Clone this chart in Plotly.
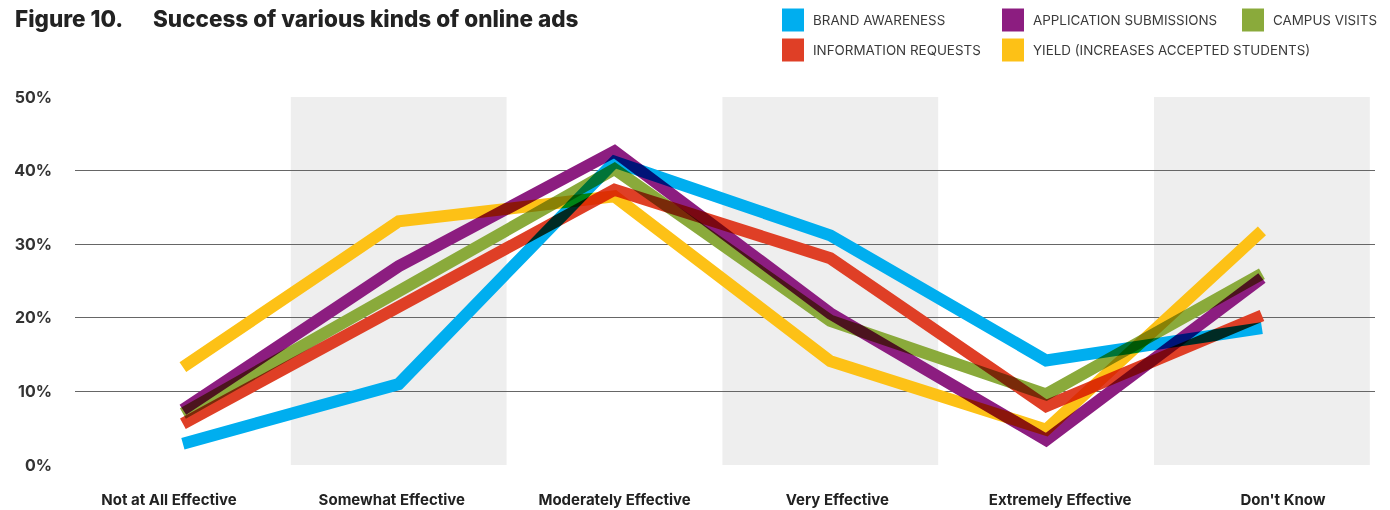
import plotly.graph_objects as go

# Survey categories (x axis) and share of respondents per ad goal (%)
categories = ["Not at All Effective", "Somewhat Effective", "Moderately Effective",
              "Very Effective", "Extremely Effective", "Don't Know"]

brand_awareness = [2.9, 11.0, 41.2, 31.2, 14.2, 18.6]
application_submissions = [7.5, 27.0, 42.6, 20.6, 3.4, 25.4]
campus_visits = [7.0, 23.6, 40.2, 19.6, 9.6, 26.0]
information_requests = [5.6, 21.3, 37.4, 28.1, 8.0, 20.3]
yield_accepted = [13.3, 33.1, 36.5, 14.1, 4.8, 31.8]

series_names = ["BRAND AWARENESS", "APPLICATION SUBMISSIONS", "CAMPUS VISITS",
                "INFORMATION REQUESTS", "YIELD (INCREASES ACCEPTED STUDENTS)"]
series_values = [brand_awareness, application_submissions, campus_visits,
                 information_requests, yield_accepted]
series_colors = ["#00AEEF", "#8C1D80", "#8AAA3B", "#DF3F26", "#FDC116"]

y_ticks = [0, 10, 20, 30, 40, 50]

W, H = 1390, 510
ML, MR, MT, MB = 75, 15, 97, 45
PW, PH = W - ML - MR, H - MT - MB

X_RANGE = [-0.5, 5.524]
LABEL_RANGE = [-0.422, 5.413]

FONT = "Inter"


def px_to_paper(px, py):
    return (px - ML) / PW, (H - MB - py) / PH


fig = go.Figure()

xs = list(range(len(categories)))
for name, vals, col in zip(series_names, series_values, series_colors):
    fig.add_trace(go.Scatter(
        x=xs, y=vals, mode="lines", name=name,
        line=dict(color=col, width=12),
        hoverinfo="skip", showlegend=False,
    ))

# Alternating shaded columns
shapes = []
for x0 in (0.5, 2.5, 4.5):
    shapes.append(dict(type="rect", xref="x", yref="paper",
                       x0=x0, x1=min(x0 + 1, X_RANGE[1]), y0=0, y1=1,
                       fillcolor="#EEEEEE", line=dict(width=0), layer="below"))

# Legend swatches and labels (two rows, three columns)
legend_slots = [(782, 20), (1002, 20), (1242, 20), (782, 50), (1002, 50)]
annotations = []
for (sx, sy), name, col in zip(legend_slots, series_names, series_colors):
    x0, y0 = px_to_paper(sx, sy + 11.5)
    x1, y1 = px_to_paper(sx + 22, sy - 11.5)
    shapes.append(dict(type="rect", xref="paper", yref="paper",
                       x0=x0, x1=x1, y0=y0, y1=y1,
                       fillcolor=col, line=dict(width=0), layer="above"))
    tx, ty = px_to_paper(sx + 29, sy)
    annotations.append(dict(xref="paper", yref="paper", x=tx, y=ty,
                            xanchor="left", yanchor="middle", showarrow=False,
                            text=name, font=dict(family=FONT, size=13.4, color="#3a3a3a")))

# Title
for px, txt in ((13, "Figure 10."), (151, "Success of various kinds of online ads")):
    tx, ty = px_to_paper(px, 18)
    annotations.append(dict(xref="paper", yref="paper", x=tx, y=ty,
                            xanchor="left", yanchor="middle", showarrow=False,
                            text=txt, font=dict(family=FONT, size=22.5, weight=800, color="#222222")))

fig.update_layout(
    width=W, height=H,
    margin=dict(l=ML, r=MR, t=MT, b=MB, autoexpand=False),
    plot_bgcolor="white", paper_bgcolor="white",
    shapes=shapes, annotations=annotations,
    showlegend=False,
    xaxis=dict(range=X_RANGE, showticklabels=False, showgrid=False, automargin=False,
               zeroline=False, showline=False, ticks=""),
    xaxis2=dict(range=LABEL_RANGE, overlaying="x", anchor="y", side="bottom",
                tickvals=xs, ticktext=categories, showgrid=False, zeroline=False,
                showline=False, ticks="", ticklabelstandoff=24, automargin=False,
                tickfont=dict(family=FONT, size=15, weight=700, color="#222222")),
    yaxis=dict(range=[0, 50], tickvals=y_ticks, ticktext=[f"{v}%" for v in y_ticks],
               showgrid=True, gridcolor="#666666", gridwidth=1.2, automargin=False,
               zeroline=False, showline=False, ticks="", ticklabelstandoff=22,
               tickfont=dict(family=FONT, size=16, weight=700, color="#333333")),
)

# Invisible trace so the label axis is rendered
fig.add_trace(go.Scatter(x=[xs[0]], y=[None], xaxis="x2", yaxis="y",
                         mode="markers", showlegend=False, hoverinfo="skip"))

# Overlapping strokes darken each other like ink
blend_js = """
var gd = document.getElementById('{plot_id}');
gd.querySelectorAll('.scatterlayer .trace path.js-line').forEach(function(p){
  p.style.mixBlendMode = 'multiply';
});
"""

fig.write_html("out.html", post_script=blend_js)
